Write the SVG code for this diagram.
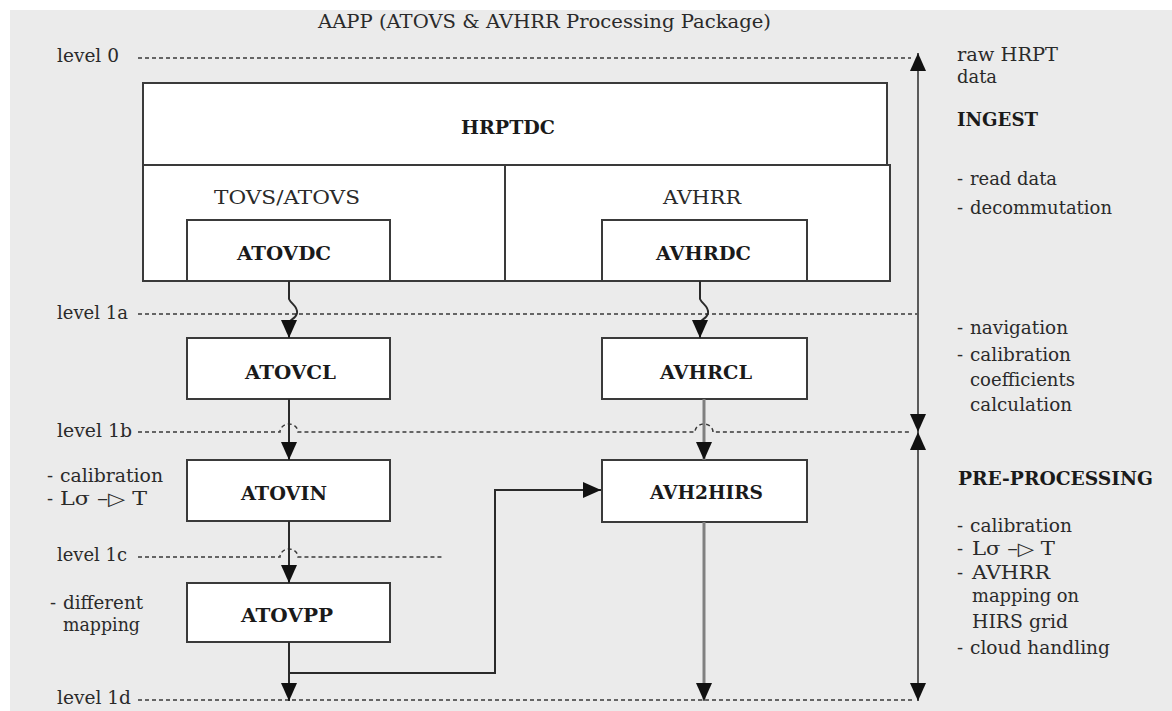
<svg xmlns="http://www.w3.org/2000/svg" width="1172" height="711" viewBox="0 0 1172 711">
<defs>
<style>
.t{font-family:"DejaVu Serif","Liberation Serif",serif;font-size:18px;fill:#2a2a2a}
.b{font-family:"DejaVu Serif","Liberation Serif",serif;font-size:18px;font-weight:bold;fill:#1a1a1a}
.box{fill:#fff;stroke:#3a3a3a;stroke-width:2}
.lvl{fill:none;stroke:#3a3a3a;stroke-width:1.5;stroke-dasharray:4 3}
.c{fill:none;stroke:#2a2a2a;stroke-width:2}
.cg{fill:none;stroke:#808080;stroke-width:3}
.cv{fill:none;stroke:#5a5a5a;stroke-width:2}
</style>
<marker id="ah" viewBox="0 0 18 16" refX="18" refY="8" markerWidth="18" markerHeight="16" markerUnits="userSpaceOnUse" orient="auto-start-reverse">
<path d="M0,0 L18,8 L0,16 Z" fill="#111"/>
</marker>
</defs>
<rect x="10" y="10" width="1162" height="701" fill="#ebebeb"/>
<text class="t" x="318" y="28" textLength="453" lengthAdjust="spacingAndGlyphs">AAPP (ATOVS &amp; AVHRR Processing Package)</text>

<g id="levels">
<path class="lvl" d="M138,58 H911"/>
<path class="lvl" d="M138,314 H917"/>
<path class="lvl" d="M138,432 H280 A9,8 0 0 1 298,432 H695 A9,8 0 0 1 713,432 H909"/>
<path class="lvl" d="M138,557 H280 A9,8 0 0 1 298,557 H444"/>
<path class="lvl" d="M138,700 H915"/>
<text class="t" x="57" y="62" textLength="62" lengthAdjust="spacingAndGlyphs">level 0</text>
<text class="t" x="57" y="319" textLength="71" lengthAdjust="spacingAndGlyphs">level 1a</text>
<text class="t" x="57" y="437" textLength="75" lengthAdjust="spacingAndGlyphs">level 1b</text>
<text class="t" x="57" y="561" textLength="70" lengthAdjust="spacingAndGlyphs">level 1c</text>
<text class="t" x="57" y="704" textLength="74" lengthAdjust="spacingAndGlyphs">level 1d</text>
</g>

<g id="hrptdc">
<rect class="box" x="143" y="165" width="747" height="116"/>
<rect class="box" x="143" y="83" width="744" height="82"/>
<line x1="505" y1="165" x2="505" y2="281" stroke="#3a3a3a" stroke-width="2"/>
<text class="b" x="461" y="134" textLength="94" lengthAdjust="spacingAndGlyphs">HRPTDC</text>
<text class="t" x="214" y="204" textLength="146" lengthAdjust="spacingAndGlyphs">TOVS/ATOVS</text>
<text class="t" x="663" y="204" textLength="78" lengthAdjust="spacingAndGlyphs">AVHRR</text>
</g>
<g id="atovdc">
<rect class="box" x="187" y="220" width="203" height="61"/>
<text class="b" x="237" y="260" textLength="94" lengthAdjust="spacingAndGlyphs">ATOVDC</text>
</g>
<g id="avhrdc">
<rect class="box" x="602" y="220" width="205" height="61"/>
<text class="b" x="656" y="260" textLength="95" lengthAdjust="spacingAndGlyphs">AVHRDC</text>
</g>
<g id="atovcl">
<rect class="box" x="187" y="338" width="203" height="61"/>
<text class="b" x="245" y="379" textLength="91" lengthAdjust="spacingAndGlyphs">ATOVCL</text>
</g>
<g id="avhrcl">
<rect class="box" x="602" y="338" width="205" height="61"/>
<text class="b" x="660" y="379" textLength="92" lengthAdjust="spacingAndGlyphs">AVHRCL</text>
</g>
<g id="atovin">
<rect class="box" x="187" y="460" width="203" height="61"/>
<text class="b" x="241" y="500" textLength="86" lengthAdjust="spacingAndGlyphs">ATOVIN</text>
</g>
<g id="avh2hirs">
<rect class="box" x="602" y="460" width="205" height="62"/>
<text class="b" x="650" y="499" textLength="113" lengthAdjust="spacingAndGlyphs">AVH2HIRS</text>
</g>
<g id="atovpp">
<rect class="box" x="187" y="583" width="203" height="59"/>
<text class="b" x="241" y="622" textLength="92" lengthAdjust="spacingAndGlyphs">ATOVPP</text>
</g>

<g id="connectors">
<path class="c" d="M289,281 V299 C291,304 298,306 297,313 C296,319 290,319 289,323 V338" marker-end="url(#ah)"/>
<path class="c" d="M700,281 V299 C702,304 709,306 708,313 C707,319 701,319 700,323 V338" marker-end="url(#ah)"/>
<path class="c" d="M289,399 V460" marker-end="url(#ah)"/>
<path class="cg" d="M704,399 V460" marker-end="url(#ah)"/>
<path class="c" d="M289,521 V583" marker-end="url(#ah)"/>
<path class="c" d="M289,642 V701" marker-end="url(#ah)"/>
<path class="c" d="M289,673 H495 V490 H601" marker-end="url(#ah)"/>
<path class="cg" d="M704,522 V701" marker-end="url(#ah)"/>
<path class="cv" d="M918,53 V432" marker-start="url(#ah)" marker-end="url(#ah)"/>
<path class="cv" d="M918,432 V701" marker-start="url(#ah)" marker-end="url(#ah)"/>
</g>

<g id="notes-right">
<text class="t" x="957" y="61" textLength="101" lengthAdjust="spacingAndGlyphs">raw HRPT</text>
<text class="t" x="957" y="83" textLength="40" lengthAdjust="spacingAndGlyphs">data</text>
<text class="b" x="957" y="126" textLength="81" lengthAdjust="spacingAndGlyphs">INGEST</text>
<text class="t" x="957" y="185">- <tspan x="970" textLength="87" lengthAdjust="spacingAndGlyphs">read data</tspan></text>
<text class="t" x="957" y="214">- <tspan x="970" textLength="142" lengthAdjust="spacingAndGlyphs">decommutation</tspan></text>
<text class="t" x="957" y="334">- <tspan x="970" textLength="98" lengthAdjust="spacingAndGlyphs">navigation</tspan></text>
<text class="t" x="957" y="361">- <tspan x="970" textLength="101" lengthAdjust="spacingAndGlyphs">calibration</tspan></text>
<text class="t" x="970" y="386" textLength="105" lengthAdjust="spacingAndGlyphs">coefficients</text>
<text class="t" x="970" y="411" textLength="102" lengthAdjust="spacingAndGlyphs">calculation</text>
<text class="b" x="958" y="485" textLength="195" lengthAdjust="spacingAndGlyphs">PRE-PROCESSING</text>
<text class="t" x="957" y="532">- <tspan x="970" textLength="102" lengthAdjust="spacingAndGlyphs">calibration</tspan></text>
<text class="t" x="957" y="555">- <tspan x="972" textLength="83" lengthAdjust="spacingAndGlyphs">Lσ –▷ T</tspan></text>
<text class="t" x="957" y="579">- <tspan x="972" textLength="78" lengthAdjust="spacingAndGlyphs">AVHRR</tspan></text>
<text class="t" x="972" y="602" textLength="107" lengthAdjust="spacingAndGlyphs">mapping on</text>
<text class="t" x="972" y="628" textLength="96" lengthAdjust="spacingAndGlyphs">HIRS grid</text>
<text class="t" x="957" y="654">- <tspan x="970" textLength="140" lengthAdjust="spacingAndGlyphs">cloud handling</tspan></text>
</g>

<g id="notes-left">
<text class="t" x="47" y="482">- <tspan x="60" textLength="103" lengthAdjust="spacingAndGlyphs">calibration</tspan></text>
<text class="t" x="47" y="505">- <tspan x="60" textLength="87" lengthAdjust="spacingAndGlyphs">Lσ –▷ T</tspan></text>
<text class="t" x="50" y="609">- <tspan x="63" textLength="80" lengthAdjust="spacingAndGlyphs">different</tspan></text>
<text class="t" x="63" y="631" textLength="77" lengthAdjust="spacingAndGlyphs">mapping</text>
</g>
</svg>
